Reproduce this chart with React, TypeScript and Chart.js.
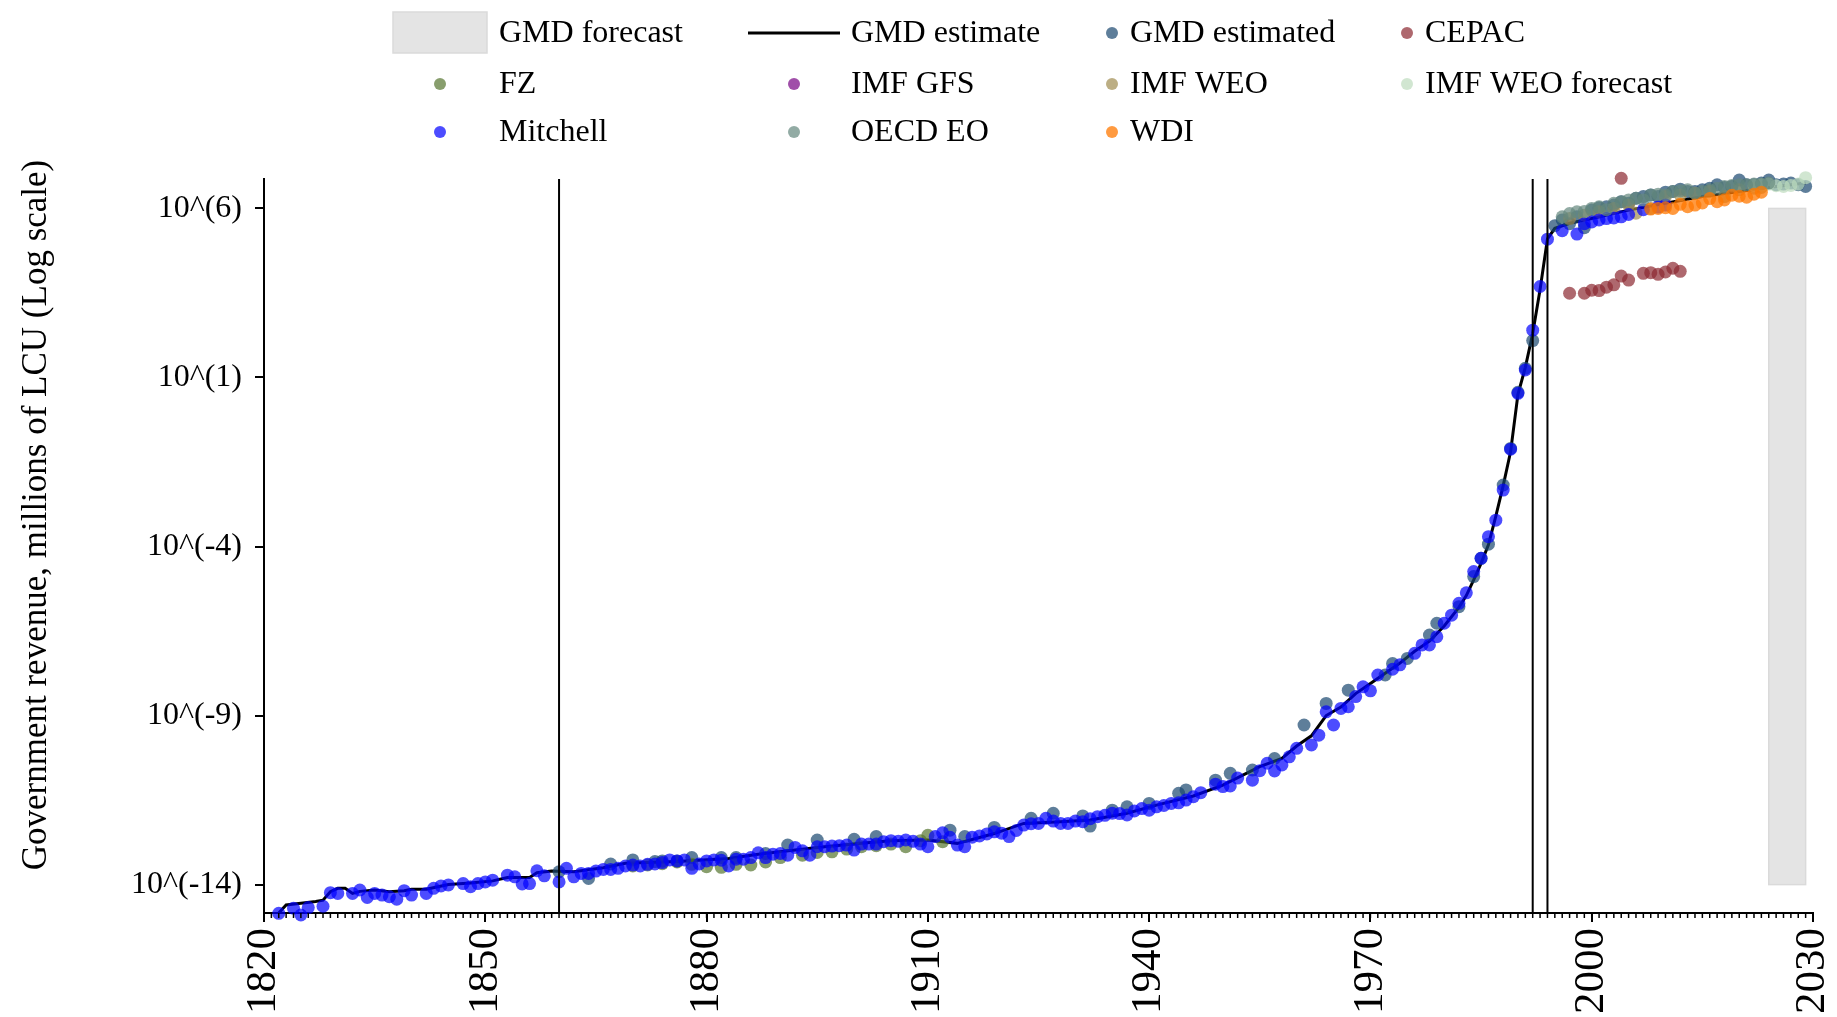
import React, { useEffect, useRef } from "react";
import { Chart, registerables } from "chart.js";

Chart.register(...registerables);

const FONT = '"Liberation Serif", "Times New Roman", serif';

// ---- axes -------------------------------------------------------------
const xMin = 1820;
const xMax = 2030;
const xTickYears = [1820, 1850, 1880, 1910, 1940, 1970, 2000, 2030];
const yMin = -14.84;
const yMax = 6.87;
const yTickExponents = [-14, -9, -4, 1, 6];
const yTitle = "Government revenue, millions of LCU (Log scale)";

// ---- reference lines and forecast band ---------------------------------
const breakYears = [1860, 1992, 1994];
const forecastYears = [2024, 2029];
const forecastRange = [-14, 6];

// ---- series (year, log10 of value) --------------------------------------
const gmdEstimate: [number, number][] = [
  [1822, -14.84], [1823, -14.6], [1825, -14.55], [1827, -14.5], [1828, -14.46], [1829, -14.21],
  [1830, -14.11], [1831, -14.11], [1832, -14.26], [1833, -14.2], [1835, -14.16], [1837, -14.21],
  [1839, -14.18], [1840, -14.14], [1842, -14.14], [1845, -14.0], [1848, -13.95], [1851, -13.89],
  [1853, -13.79], [1856, -13.79], [1857, -13.65], [1859, -13.6], [1862, -13.62], [1866, -13.5],
  [1869, -13.37], [1876, -13.32], [1883, -13.23], [1887, -13.1], [1892, -12.98], [1896, -12.88],
  [1901, -12.78], [1905, -12.7], [1910, -12.68], [1914, -12.78], [1919, -12.49], [1923, -12.19],
  [1928, -12.14], [1932, -12.09], [1937, -11.89], [1941, -11.65], [1946, -11.38], [1950, -11.06],
  [1955, -10.51], [1958, -10.27], [1960, -9.9], [1962, -9.6], [1964, -9.0], [1966, -8.75],
  [1968, -8.35], [1970, -8.05], [1972, -7.75], [1974, -7.45], [1976, -7.1], [1978, -6.8],
  [1980, -6.35], [1982, -5.8], [1983, -5.45], [1984, -4.99], [1985, -4.5], [1986, -3.95],
  [1987, -3.1], [1988, -2.2], [1989, -1.2], [1990, 0.5], [1991, 1.3], [1992, 2.3], [1993, 3.6],
  [1994, 5.1], [1995, 5.41], [1997, 5.56], [2000, 5.7], [2005, 5.95], [2010, 6.15], [2015, 6.35],
  [2020, 6.5], [2025, 6.65], [2029, 6.75],
];

const gmdEstimated: [number, number][] = [
  [1860, -13.62], [1864, -13.82], [1867, -13.39], [1870, -13.27], [1873, -13.32], [1874, -13.3],
  [1876, -13.3], [1878, -13.2], [1882, -13.2], [1884, -13.2], [1888, -13.08], [1891, -12.83],
  [1895, -12.68], [1900, -12.66], [1903, -12.58], [1913, -12.39], [1915, -12.58], [1919, -12.31],
  [1924, -12.04], [1927, -11.89], [1931, -11.97], [1932, -12.27], [1935, -11.8], [1937, -11.7],
  [1940, -11.6], [1944, -11.3], [1945, -11.2], [1949, -10.91], [1951, -10.71], [1954, -10.61],
  [1957, -10.27], [1961, -9.28], [1964, -8.64], [1967, -8.25], [1972, -7.8], [1973, -7.46],
  [1975, -7.31], [1978, -6.62], [1979, -6.27], [1982, -5.78], [1984, -4.89], [1985, -4.35],
  [1986, -3.93], [1988, -2.18], [1989, -1.1], [1990, 0.56], [1991, 1.27], [1992, 2.09],
  [1995, 5.49], [1996, 5.66], [1997, 5.55], [1998, 5.75], [1999, 5.43], [2000, 5.95],
  [2001, 6.02], [2002, 6.05], [2003, 6.1], [2004, 6.2], [2005, 6.15], [2006, 6.3], [2007, 6.35],
  [2008, 6.4], [2009, 6.35], [2010, 6.48], [2011, 6.5], [2012, 6.57], [2013, 6.5], [2014, 6.5],
  [2015, 6.55], [2016, 6.6], [2017, 6.7], [2018, 6.62], [2019, 6.65], [2020, 6.84], [2021, 6.7],
  [2022, 6.7], [2023, 6.75], [2024, 6.84], [2025, 6.7], [2026, 6.72], [2027, 6.75], [2028, 6.7],
  [2029, 6.65],
];

const cepac: [number, number][] = [
  [1997, 3.49], [1999, 3.49], [2000, 3.58], [2001, 3.57], [2002, 3.67], [2003, 3.74], [2004, 4.0],
  [2004, 6.89], [2005, 3.88], [2007, 4.08], [2008, 4.1], [2009, 4.05], [2010, 4.12], [2011, 4.23],
  [2012, 4.14],
];

const fz: [number, number][] = [
  [1870, -13.45], [1872, -13.42], [1874, -13.38], [1876, -13.33], [1878, -13.4], [1880, -13.47],
  [1882, -13.49], [1884, -13.4], [1886, -13.42], [1888, -13.33], [1890, -13.2], [1893, -13.13],
  [1895, -13.05], [1897, -13.03], [1899, -12.95], [1901, -12.88], [1903, -12.85], [1905, -12.8],
  [1907, -12.88], [1909, -12.7], [1910, -12.54], [1912, -12.73],
];

const imfGfs: [number, number][] = [];

const imfWeo: [number, number][] = [
  [1997, 5.7], [1999, 5.8], [2001, 5.9], [2003, 6.0], [2005, 6.1], [2006, 5.86], [2008, 6.0],
  [2010, 6.35], [2012, 6.4], [2014, 6.45], [2016, 6.5], [2018, 6.35], [2020, 6.55], [2022, 6.6],
  [2023, 6.62],
];

const imfWeoForecast: [number, number][] = [
  [2022, 6.68], [2023, 6.7], [2024, 6.72], [2025, 6.67], [2026, 6.65], [2027, 6.68], [2028, 6.72],
  [2029, 6.91],
];

const mitchell: [number, number][] = [
  [1822, -14.85], [1824, -14.7], [1825, -14.9], [1826, -14.68], [1828, -14.64], [1829, -14.24],
  [1830, -14.26], [1832, -14.26], [1833, -14.16], [1834, -14.38], [1835, -14.26], [1836, -14.31],
  [1837, -14.36], [1838, -14.43], [1839, -14.18], [1840, -14.31], [1842, -14.26], [1843, -14.11],
  [1844, -14.04], [1845, -14.01], [1847, -13.97], [1848, -14.06], [1849, -13.97], [1850, -13.92],
  [1851, -13.87], [1853, -13.72], [1854, -13.77], [1855, -13.98], [1856, -13.97], [1857, -13.59],
  [1858, -13.74], [1860, -13.92], [1861, -13.52], [1862, -13.77], [1863, -13.67], [1864, -13.67],
  [1865, -13.6], [1866, -13.55], [1867, -13.55], [1868, -13.52], [1869, -13.45], [1870, -13.42],
  [1871, -13.45], [1872, -13.4], [1873, -13.39], [1874, -13.35], [1875, -13.27], [1876, -13.3],
  [1877, -13.27], [1878, -13.52], [1879, -13.39], [1880, -13.3], [1881, -13.27], [1882, -13.28],
  [1883, -13.45], [1884, -13.25], [1885, -13.25], [1886, -13.2], [1887, -13.06], [1888, -13.2],
  [1889, -13.1], [1890, -13.08], [1891, -13.13], [1892, -12.9], [1893, -13.0], [1894, -13.13],
  [1895, -12.88], [1896, -12.88], [1897, -12.86], [1898, -12.85], [1899, -12.83], [1900, -12.98],
  [1901, -12.8], [1902, -12.8], [1903, -12.8], [1904, -12.73], [1905, -12.7], [1906, -12.72],
  [1907, -12.68], [1908, -12.72], [1909, -12.8], [1910, -12.88], [1911, -12.58], [1912, -12.47],
  [1913, -12.6], [1914, -12.83], [1915, -12.88], [1916, -12.6], [1917, -12.56], [1918, -12.5],
  [1919, -12.44], [1920, -12.48], [1921, -12.58], [1922, -12.4], [1923, -12.24], [1924, -12.2],
  [1925, -12.19], [1926, -12.04], [1927, -12.12], [1928, -12.19], [1929, -12.19], [1930, -12.12],
  [1931, -12.14], [1932, -12.05], [1933, -11.99], [1934, -11.95], [1935, -11.89], [1936, -11.9],
  [1937, -11.94], [1938, -11.82], [1939, -11.75], [1940, -11.8], [1941, -11.7], [1942, -11.66],
  [1943, -11.6], [1944, -11.58], [1945, -11.5], [1946, -11.4], [1947, -11.28], [1949, -11.03],
  [1950, -11.1], [1951, -11.08], [1952, -10.85], [1954, -10.91], [1955, -10.63], [1956, -10.41],
  [1957, -10.64], [1958, -10.46], [1959, -10.22], [1960, -9.97], [1962, -9.87], [1963, -9.58],
  [1964, -8.89], [1965, -9.28], [1966, -8.79], [1967, -8.74], [1968, -8.44], [1969, -8.15],
  [1970, -8.27], [1971, -7.8], [1973, -7.63], [1974, -7.5], [1976, -7.16], [1977, -6.91],
  [1978, -6.91], [1979, -6.67], [1980, -6.27], [1981, -6.03], [1982, -5.68], [1983, -5.37],
  [1984, -4.74], [1985, -4.35], [1986, -3.71], [1987, -3.22], [1988, -2.33], [1989, -1.12],
  [1990, 0.53], [1991, 1.22], [1992, 2.4], [1993, 3.69], [1994, 5.09], [1996, 5.34], [1998, 5.24],
  [1999, 5.55], [2000, 5.6], [2001, 5.66], [2002, 5.7], [2003, 5.72], [2004, 5.75], [2005, 5.82],
  [2007, 5.96], [2009, 6.04], [2010, 6.1],
];

const oecdEo: [number, number][] = [
  [1996, 5.75], [1997, 5.85], [1998, 5.9], [1999, 5.91], [2000, 6.0], [2001, 6.05], [2002, 5.96],
  [2003, 6.15], [2004, 6.2], [2005, 6.25], [2006, 6.3], [2007, 6.25], [2008, 6.4], [2009, 6.42],
  [2010, 6.4], [2011, 6.5], [2012, 6.52], [2013, 6.55], [2014, 6.45], [2015, 6.5], [2016, 6.55],
  [2017, 6.6], [2018, 6.65], [2019, 6.68], [2020, 6.7], [2021, 6.7], [2022, 6.72], [2023, 6.72],
  [2024, 6.75],
];

const wdi: [number, number][] = [
  [2008, 5.98], [2009, 6.0], [2010, 6.02], [2011, 6.0], [2012, 6.12], [2013, 6.05], [2014, 6.1],
  [2015, 6.16], [2016, 6.29], [2017, 6.2], [2018, 6.25], [2019, 6.39], [2020, 6.36], [2021, 6.33],
  [2022, 6.42], [2023, 6.48],
];

// ---- styling ---------------------------------------------------------------
const C_GMD = "rgba(26,71,111,0.7)";
const C_CEPAC = "rgba(140,40,48,0.7)";
const C_FZ = "rgba(85,117,47,0.7)";
const C_GFS = "rgba(128,20,140,0.75)";
const C_WEO = "rgba(160,140,80,0.7)";
const C_WEOF = "rgba(190,220,190,0.7)";
const C_MITCH = "rgba(0,0,255,0.7)";
const C_OECD = "rgba(100,135,125,0.7)";
const C_WDI = "rgba(255,120,0,0.75)";
const C_BAND = "#e4e4e4";
const C_BAND_EDGE = "#dadada";
const DOT_R = 6.5;
const LEGEND_DOT_R = 6;

type Item = { label: string; kind: "box" | "line" | "dot"; color?: string };
const legendItems: Item[] = [
  { label: "GMD forecast", kind: "box" },
  { label: "GMD estimate", kind: "line" },
  { label: "GMD estimated", kind: "dot", color: C_GMD },
  { label: "CEPAC", kind: "dot", color: C_CEPAC },
  { label: "FZ", kind: "dot", color: C_FZ },
  { label: "IMF GFS", kind: "dot", color: C_GFS },
  { label: "IMF WEO", kind: "dot", color: C_WEO },
  { label: "IMF WEO forecast", kind: "dot", color: C_WEOF },
  { label: "Mitchell", kind: "dot", color: C_MITCH },
  { label: "OECD EO", kind: "dot", color: C_OECD },
  { label: "WDI", kind: "dot", color: C_WDI },
];

const W = 1837;
const H = 1017;
const AREA = { left: 264, right: 1813, top: 179, bottom: 913 };
const TITLE_X = 37;
const TITLE_CY = 515;

const toPts = (arr: [number, number][]) => arr.map(([x, y]) => ({ x, y }));

const scatterDs = (label: string, data: [number, number][], color: string, order: number) => ({
  type: "scatter" as const,
  label,
  data: toPts(data),
  backgroundColor: color,
  borderWidth: 0,
  pointRadius: DOT_R,
  pointHoverRadius: DOT_R,
  clip: false as any,
  order,
});

const bandPlugin = {
  id: "band",
  beforeDatasetsDraw(chart: any) {
    const { ctx, scales } = chart;
    const x0 = scales.x.getPixelForValue(forecastYears[0]);
    const x1 = scales.x.getPixelForValue(forecastYears[1]);
    const y0 = scales.y.getPixelForValue(forecastRange[1]);
    const y1 = scales.y.getPixelForValue(forecastRange[0]);
    ctx.save();
    ctx.fillStyle = C_BAND;
    ctx.fillRect(x0, y0, x1 - x0, y1 - y0);
    ctx.strokeStyle = C_BAND_EDGE;
    ctx.lineWidth = 1.5;
    ctx.strokeRect(x0, y0, x1 - x0, y1 - y0);
    ctx.restore();
  },
};

const linesPlugin = {
  id: "breaks",
  afterDatasetsDraw(chart: any) {
    const { ctx, scales, chartArea } = chart;
    ctx.save();
    ctx.strokeStyle = "#000";
    ctx.lineWidth = 2;
    breakYears.forEach((yr) => {
      const px = scales.x.getPixelForValue(yr);
      ctx.beginPath();
      ctx.moveTo(px, chartArea.top);
      ctx.lineTo(px, chartArea.bottom);
      ctx.stroke();
    });
    ctx.restore();
  },
};

const minorTicksPlugin = {
  id: "minorTicks",
  afterDraw(chart: any) {
    const { ctx, scales, chartArea } = chart;
    ctx.save();
    ctx.strokeStyle = "#000";
    ctx.lineWidth = 1.5;
    for (let yr = xMin; yr <= xMax; yr++) {
      const px = scales.x.getPixelForValue(yr);
      ctx.beginPath();
      ctx.moveTo(px, chartArea.bottom);
      ctx.lineTo(px, chartArea.bottom + 5);
      ctx.stroke();
    }
    ctx.restore();
  },
};

const titlePlugin = {
  id: "yTitle",
  afterDraw(chart: any) {
    const { ctx } = chart;
    ctx.save();
    ctx.translate(TITLE_X, TITLE_CY);
    ctx.rotate(-Math.PI / 2);
    ctx.font = `35px ${FONT}`;
    ctx.fillStyle = "#000";
    ctx.textAlign = "center";
    ctx.textBaseline = "middle";
    ctx.fillText(yTitle, 0, 0);
    ctx.restore();
  },
};

const legendPlugin = {
  id: "customLegend",
  afterDraw(chart: any) {
    const { ctx } = chart;
    const keyCenters = [440, 794, 1112, 1407];
    const textX = [499, 851, 1130, 1425];
    const rowY = [33, 84, 132];
    ctx.save();
    ctx.font = `32px ${FONT}`;
    ctx.textBaseline = "middle";
    ctx.textAlign = "left";
    legendItems.forEach((it, i) => {
      const col = i % 4;
      const row = Math.floor(i / 4);
      const cy = rowY[row];
      const cx = keyCenters[col];
      if (it.kind === "box") {
        ctx.fillStyle = C_BAND;
        ctx.fillRect(cx - 47, cy - 21, 94, 41);
        ctx.strokeStyle = C_BAND_EDGE;
        ctx.lineWidth = 1.5;
        ctx.strokeRect(cx - 47, cy - 21, 94, 41);
      } else if (it.kind === "line") {
        ctx.strokeStyle = "#000";
        ctx.lineWidth = 3;
        ctx.beginPath();
        ctx.moveTo(cx - 46, cy);
        ctx.lineTo(cx + 46, cy);
        ctx.stroke();
      } else {
        ctx.fillStyle = it.color;
        ctx.beginPath();
        ctx.arc(cx, cy, LEGEND_DOT_R, 0, Math.PI * 2);
        ctx.fill();
      }
      ctx.fillStyle = "#000";
      ctx.fillText(it.label, textX[col], cy + 1);
    });
    ctx.restore();
  },
};

export default function App() {
  const ref = useRef<HTMLCanvasElement | null>(null);

  useEffect(() => {
    if (!ref.current) return;
    const chart = new Chart(ref.current, {
      type: "scatter",
      data: {
        datasets: [
          {
            type: "line",
            label: "GMD estimate",
            data: toPts(gmdEstimate),
            borderColor: "#000",
            borderWidth: 3,
            pointRadius: 0,
            fill: false,
            tension: 0,
            order: 100,
          } as any,
          scatterDs("GMD estimated", gmdEstimated, C_GMD, 90),
          scatterDs("CEPAC", cepac, C_CEPAC, 80),
          scatterDs("FZ", fz, C_FZ, 70),
          scatterDs("IMF GFS", imfGfs, C_GFS, 60),
          scatterDs("IMF WEO", imfWeo, C_WEO, 50),
          scatterDs("IMF WEO forecast", imfWeoForecast, C_WEOF, 40),
          scatterDs("Mitchell", mitchell, C_MITCH, 30),
          scatterDs("OECD EO", oecdEo, C_OECD, 20),
          scatterDs("WDI", wdi, C_WDI, 10),
        ],
      },
      options: {
        responsive: false,
        animation: false,
        devicePixelRatio: 1,
        layout: { padding: { left: 0, right: W - AREA.right, top: AREA.top, bottom: 0 } },
        plugins: { legend: { display: false }, tooltip: { enabled: false } },
        scales: {
          x: {
            type: "linear",
            min: xMin,
            max: xMax,
            afterBuildTicks: (s: any) => {
              s.ticks = xTickYears.map((v) => ({ value: v }));
            },
            afterFit: (s: any) => {
              s.height = H - AREA.bottom;
              s.paddingLeft = 0;
              s.paddingRight = 0;
            },
            ticks: {
              autoSkip: false,
              minRotation: 90,
              maxRotation: 90,
              padding: 6,
              color: "#000",
              font: { family: FONT, size: 43 },
              callback: (v: any) => String(v),
            },
            grid: { drawOnChartArea: false, drawTicks: true, tickLength: 9, color: "#000", lineWidth: 2 },
            border: { display: true, color: "#000", width: 2 },
          },
          y: {
            type: "linear",
            min: yMin,
            max: yMax,
            afterBuildTicks: (s: any) => {
              s.ticks = yTickExponents.map((v) => ({ value: v }));
            },
            afterFit: (s: any) => {
              s.width = AREA.left;
              s.paddingTop = 0;
              s.paddingBottom = 0;
            },
            ticks: {
              padding: 13,
              color: "#000",
              font: { family: FONT, size: 32 },
              callback: (v: any) => `10^(${v})`,
            },
            grid: { drawOnChartArea: false, drawTicks: true, tickLength: 9, color: "#000", lineWidth: 2 },
            border: { display: true, color: "#000", width: 2 },
            title: { display: false },
          },
        },
      },
      plugins: [bandPlugin, linesPlugin, minorTicksPlugin, titlePlugin, legendPlugin],
    } as any);
    return () => chart.destroy();
  }, []);

  return (
    <div style={{ position: "fixed", left: 0, top: 0, width: W, height: H, background: "#fff" }}>
      <canvas ref={ref} width={W} height={H} style={{ width: W, height: H, display: "block" }} />
    </div>
  );
}
